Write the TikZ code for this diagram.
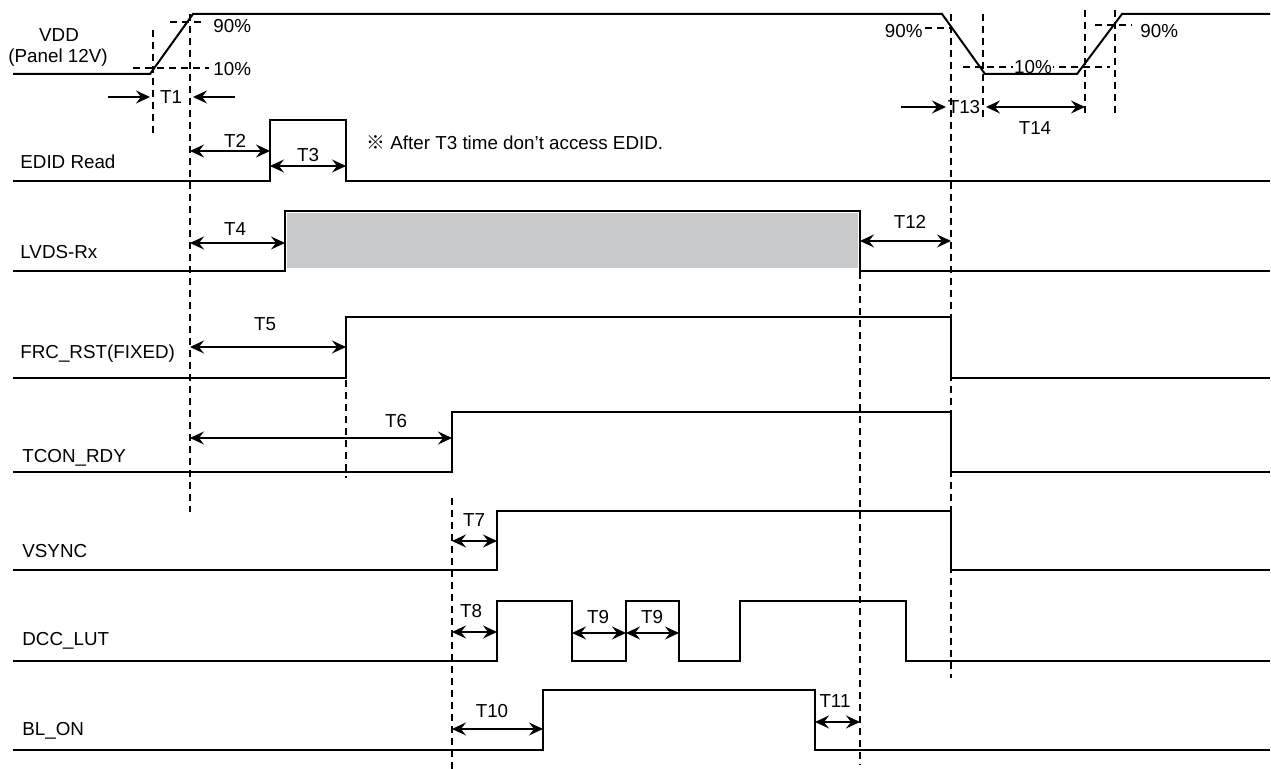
\documentclass[tikz,border=0pt]{standalone}
\usepackage{fontspec}
\setmainfont{Liberation Sans}
\newfontfamily\cjkfont{Noto Sans CJK SC}
\usetikzlibrary{arrows.meta}
\definecolor{busgray}{HTML}{C8C9CB}
\tikzset{
  sig/.style={line width=1pt, line join=miter},
  guide/.style={line width=0.75pt, dash pattern=on 3.5pt off 2.5pt},
  span/.style={line width=0.8pt, {Stealth[length=7pt,width=6.5pt,inset=2.5pt]}-{Stealth[length=7pt,width=6.5pt,inset=2.5pt]}},
  push/.style={line width=0.8pt, -{Stealth[length=7pt,width=6.5pt,inset=2.5pt]}},
  lbl/.style={font=\fontsize{9.4}{11}\selectfont, inner sep=0pt},
}
\begin{document}
\begin{tikzpicture}[x=0.5pt, y=-0.5pt]
\useasboundingbox (0,0) rectangle (1271,769);
% signal names
\node[lbl] (vdd) at (59,35) {VDD};
\node[lbl] (panel) at (58,58) {(Panel 12V)};
\node[lbl, anchor=west] (edid) at (20,162) {EDID Read};
\node[lbl, anchor=west] (lvds) at (20,252) {LVDS-Rx};
\node[lbl, anchor=west] (frc) at (20,354) {FRC\_RST(FIXED)};
\node[lbl, anchor=west] (tcon) at (22,458) {TCON\_RDY};
\node[lbl, anchor=west] (vsync) at (22,551) {VSYNC};
\node[lbl, anchor=west] (dcc) at (22,641) {DCC\_LUT};
\node[lbl, anchor=west] (blon) at (22,731) {BL\_ON};

% guide lines
\foreach \x/\ya/\yb in {153/30/133, 190/14/512, 346/380/478, 452/498/769,
  860/272/765, 951/14/678, 983/14/117, 1085/10/113, 1115/10/113}
  \draw[guide] (\x,\ya) -- (\x,\yb);
\draw[guide] (170,22) -- (203,22);
\draw[guide] (133,68) -- (209,68);
\draw[guide] (925,28) -- (951,28);
\draw[guide] (963,67) -- (1110,67);
\draw[guide] (1095,25) -- (1132,25);
\node[lbl, anchor=west] (p90a) at (213,26) {90\%};
\node[lbl, anchor=west] (p10a) at (213,69) {10\%};
\node[lbl, anchor=east] (p90b) at (923,31) {90\%};
\node[lbl, fill=white, inner sep=0.5pt] (p10b) at (1033,67) {10\%};
\node[lbl, anchor=west] (p90c) at (1140,31) {90\%};

% waveforms
\fill[busgray] (287,213) rectangle (858,268);
\draw[sig] (13,74) -- (150,74) -- (193,14) -- (942,14) -- (985,74) -- (1077,74) -- (1122,14) -- (1270,14);
\draw[sig] (13,181) -- (270,181) -- (270,120) -- (346,120) -- (346,181) -- (1270,181);
\draw[sig] (13,271) -- (285,271) -- (285,211) -- (860,211) -- (860,271) -- (1270,271);
\draw[sig] (13,378) -- (346,378) -- (346,317) -- (951,317) -- (951,378) -- (1270,378);
\draw[sig] (13,472) -- (452,472) -- (452,412) -- (951,412) -- (951,472) -- (1270,472);
\draw[sig] (13,570) -- (497,570) -- (497,511) -- (951,511) -- (951,570) -- (1270,570);
\draw[sig] (13,661) -- (497,661) -- (497,601) -- (572,601) -- (572,661) -- (626,661) -- (626,601)
  -- (679,601) -- (679,661) -- (740,661) -- (740,601) -- (906,601) -- (906,661) -- (1270,661);
\draw[sig] (13,750) -- (543,750) -- (543,690) -- (815,690) -- (815,750) -- (1270,750);

% timing arrows
\draw[push] (108,97) -- (150,97);
\draw[push] (235,97) -- (193,97);
\node[lbl] (t1) at (171,97) {T1};
\draw[span] (190,151) -- (270,151);
\node[lbl] (t2) at (235,141) {T2};
\draw[span] (270,166) -- (346,166);
\node[lbl] (t3) at (308,155) {T3};
\node[lbl, anchor=west] (note) at (366,143) {{\cjkfont ※} After T3 time don’t access EDID.};
\draw[span] (190,243) -- (285,243);
\node[lbl] (t4) at (235,229) {T4};
\draw[span] (860,241) -- (951,241);
\node[lbl] (t12) at (910,222) {T12};
\draw[span] (190,347) -- (346,347);
\node[lbl] (t5) at (265,324) {T5};
\draw[span] (190,438) -- (452,438);
\node[lbl] (t6) at (396,421) {T6};
\draw[span] (452,541) -- (497,541);
\node[lbl] (t7) at (474,520) {T7};
\draw[span] (452,632) -- (497,632);
\node[lbl] (t8) at (471,611) {T8};
\draw[span] (572,633) -- (626,633);
\node[lbl] (t9a) at (598,617) {T9};
\draw[span] (626,633) -- (679,633);
\node[lbl] (t9b) at (652,617) {T9};
\draw[span] (452,729) -- (543,729);
\node[lbl] (t10) at (492,711) {T10};
\draw[span] (815,722) -- (860,722);
\node[lbl] (t11) at (835,701) {T11};
\draw[push] (901,107) -- (946,107);
\node[lbl] (t13) at (964,107) {T13};
\draw[span] (986,107) -- (1085,107);
\node[lbl] (t14) at (1035,128) {T14};
\end{tikzpicture}
\end{document}
